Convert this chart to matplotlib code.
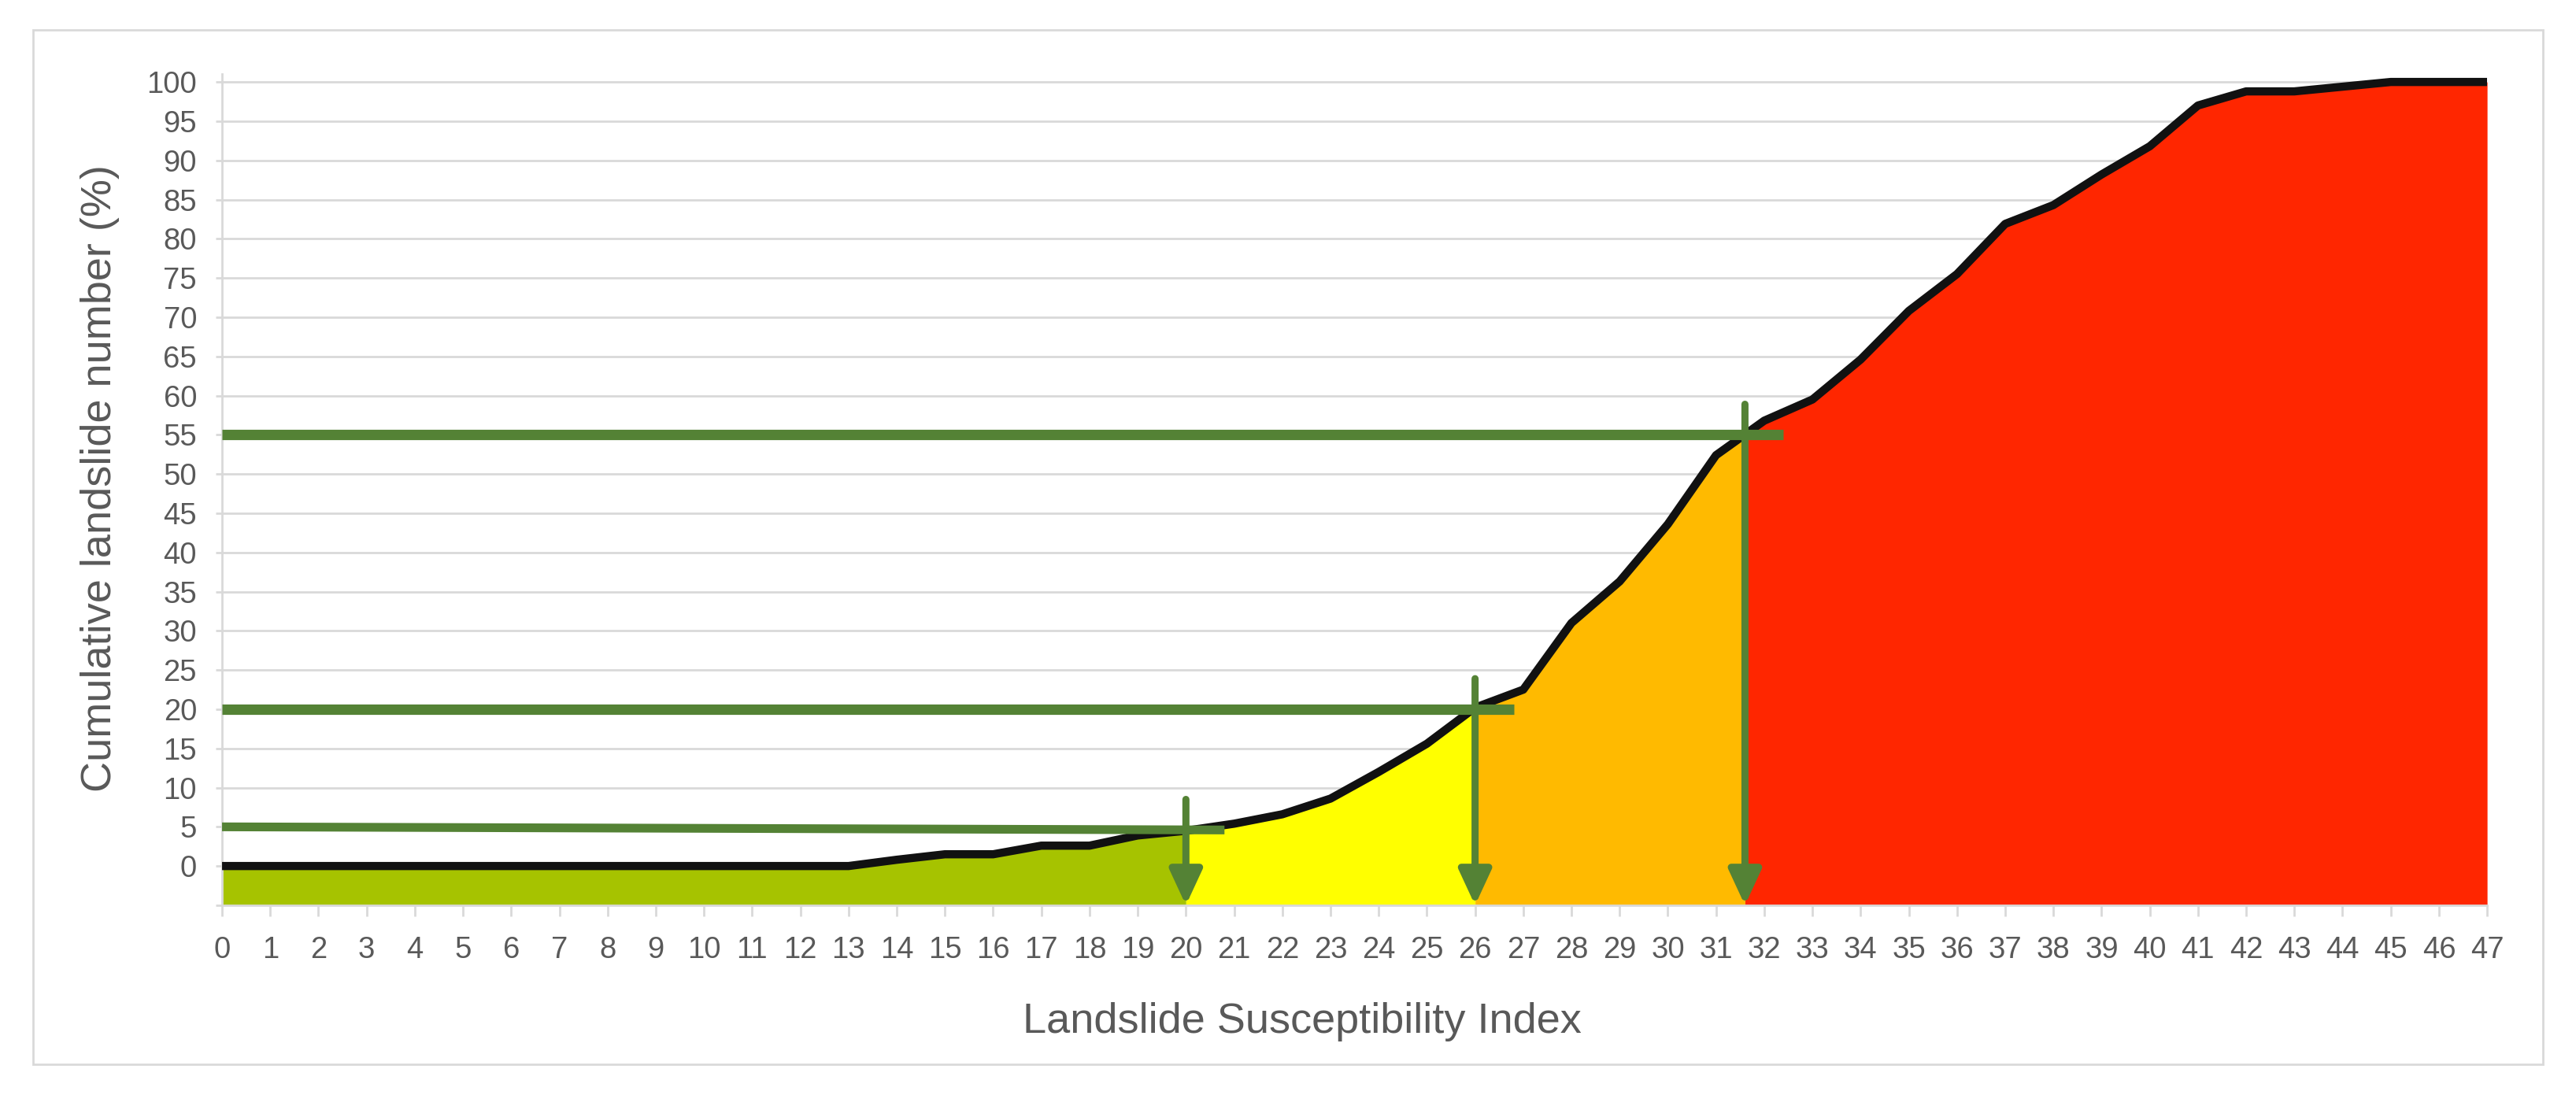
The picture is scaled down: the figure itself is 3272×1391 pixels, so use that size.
import numpy as np
import matplotlib
matplotlib.use("Agg")
import matplotlib.pyplot as plt
from matplotlib.patches import Rectangle, ArrowStyle

# Landslide Susceptibility Index (x) and cumulative landslide number in % (y)
lsi = np.arange(0, 48)
cum_pct = [0, 0, 0, 0, 0, 0, 0, 0, 0, 0, 0, 0, 0, 0,
           0.8, 1.5, 1.5, 2.6, 2.6, 3.9, 4.5, 5.4, 6.6, 8.6, 12.0, 15.6,
           20.2, 22.5, 31.0, 36.3, 43.6, 52.4, 56.8, 59.5, 64.6, 70.8,
           75.5, 81.9, 84.3, 88.2, 91.8, 97.0, 98.8, 98.8, 99.4, 100, 100, 100]

# class breaks: cumulative % thresholds and the LSI value where they are met
thresh_pct = [5, 20, 55]
thresh_pct_end = [4.6, 20, 55]   # the 5 % line is drawn slightly tilted
thresh_lsi = [20, 26, 31.6]
zone_colors = ["#A6C300", "#FFFF00", "#FFBA00", "#FF2600"]

GREEN = "#548235"
GRID = "#D9D9D9"
TEXT = "#595959"
YMIN, YMAX = -5, 101

plt.rcParams["font.family"] = ["Liberation Sans", "DejaVu Sans"]

fig = plt.figure(figsize=(32.72, 13.91), dpi=100)
ax = fig.add_axes([0.0862, 0.1733, 0.8793, 0.759])

# coloured susceptibility zones under the curve
edges = [lsi[0]] + thresh_lsi + [lsi[-1]]
for lo, hi, col in zip(edges[:-1], edges[1:], zone_colors):
    inner = lsi[(lsi > lo) & (lsi < hi)]
    xs = np.concatenate(([lo], inner, [hi]))
    ys = np.interp(xs, lsi, cum_pct)
    ax.fill_between(xs, YMIN, ys, color=col, lw=0, zorder=2)

ax.plot(lsi, cum_pct, color="#111111", lw=7.5, solid_joinstyle="round",
        solid_capstyle="butt", zorder=3)

# threshold guides: horizontal line from the y axis, vertical arrow down to x axis
for i, (p0, p1, x) in enumerate(zip(thresh_pct, thresh_pct_end, thresh_lsi)):
    ax.plot([0, x + 0.8], [p0, p1], color=GREEN, lw=8 if i == 0 else 9.5,
            solid_capstyle="butt", zorder=4)
    ax.annotate("", xy=(x, YMIN), xytext=(x, p1 + 3.9),
                arrowprops=dict(arrowstyle=ArrowStyle("-|>", head_length=2.7, head_width=1.25),
                                mutation_scale=10, color=GREEN, lw=6.5,
                                shrinkA=0, shrinkB=0),
                zorder=5, annotation_clip=False)

ax.set_xlim(lsi[0], lsi[-1])
ax.set_ylim(YMIN, YMAX)
ax.set_xticks(lsi)
ax.set_xticklabels([str(v) for v in lsi])
yt = list(range(-5, 101, 5))
ax.set_yticks(yt)
ax.set_yticklabels(["" if v < 0 else str(v) for v in yt])

ax.set_axisbelow(True)
ax.yaxis.grid(True, color=GRID, lw=2)
for s in ("top", "right"):
    ax.spines[s].set_visible(False)
for s in ("left", "bottom"):
    ax.spines[s].set_color(GRID)
    ax.spines[s].set_linewidth(2)

ax.tick_params(axis="x", length=10, width=2, color=GRID, pad=18,
               labelsize=27.5, labelcolor=TEXT)
ax.tick_params(axis="y", length=6, width=2, color=GRID, pad=17,
               labelsize=27.5, labelcolor=TEXT)

ax.set_xlabel("Landslide Susceptibility Index", fontsize=39, color=TEXT, va="center")
ax.set_ylabel("Cumulative landslide number (%)", fontsize=39, color=TEXT, va="center")
ax.xaxis.set_label_coords(0.477, -0.14)
ax.yaxis.set_label_coords(-0.054, 0.514)

# light chart-area border
fig.patches.append(Rectangle((42 / 3272, 1 - 1352 / 1391), 3188 / 3272, 1314 / 1391,
                             transform=fig.transFigure, fill=False,
                             edgecolor=GRID, lw=2))

fig.savefig("out.png", dpi=100)
